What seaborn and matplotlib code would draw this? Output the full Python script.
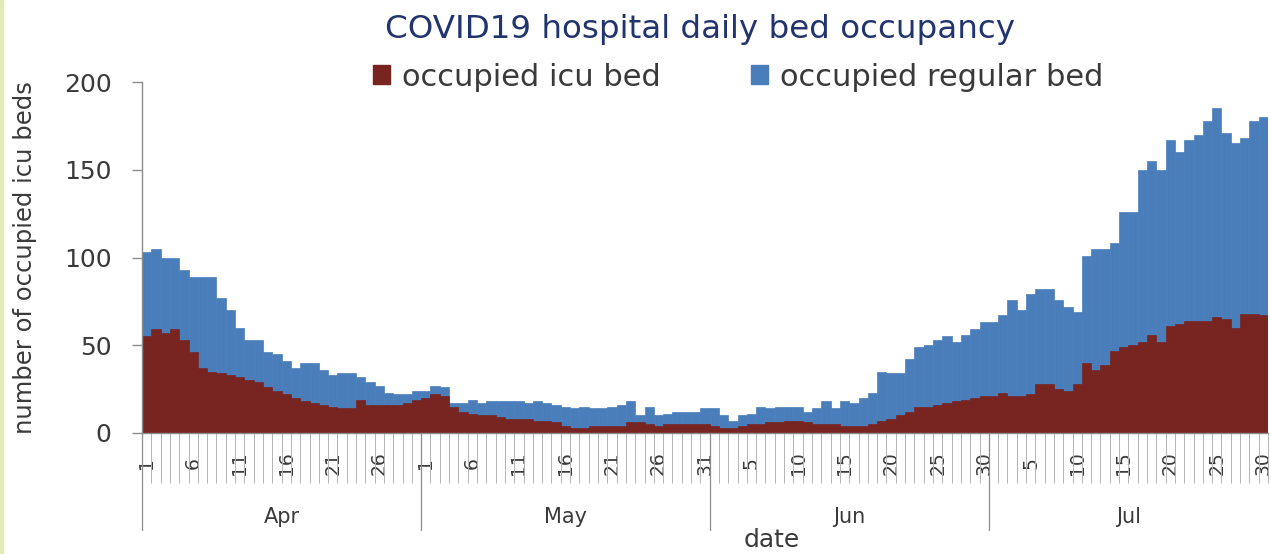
import numpy as np
import pandas as pd
import matplotlib.pyplot as plt
import seaborn as sns
from matplotlib.patches import Patch, Rectangle

# daily values, Apr 1 .. Jul 30
months = ["Apr", "May", "Jun", "Jul"]
month_days = [30, 31, 30, 30]

icu_apr = [55, 59, 57, 59, 53, 46, 37, 35, 34, 33, 32, 30, 29, 26, 24,
           22, 20, 18, 17, 16, 15, 14, 14, 19, 16, 16, 16, 16, 17, 19]
reg_apr = [48, 46, 43, 41, 40, 43, 52, 54, 43, 37, 28, 23, 24, 20, 21,
           19, 17, 22, 23, 20, 18, 20, 20, 13, 13, 11, 7, 6, 5, 5]
icu_may = [20, 22, 21, 15, 12, 11, 10, 10, 9, 8, 8, 8, 7, 7, 6, 4,
           3, 3, 4, 4, 4, 4, 6, 6, 5, 4, 5, 5, 5, 5, 5]
reg_may = [4, 5, 5, 2, 5, 8, 7, 8, 9, 10, 10, 9, 11, 10, 10, 11,
           11, 12, 10, 10, 11, 12, 12, 4, 10, 6, 6, 7, 7, 7, 9]
icu_jun = [4, 3, 3, 4, 5, 5, 6, 6, 7, 7, 6, 5, 5, 5, 4,
           4, 4, 5, 7, 8, 10, 12, 15, 15, 16, 17, 18, 19, 20, 21]
reg_jun = [10, 7, 4, 6, 6, 10, 8, 9, 8, 8, 6, 9, 13, 9, 14,
           13, 16, 18, 28, 26, 24, 30, 34, 35, 37, 38, 34, 37, 39, 42]
icu_jul = [21, 23, 21, 21, 22, 28, 28, 25, 24, 28, 40, 36, 39, 47, 49,
           50, 52, 56, 52, 61, 62, 64, 64, 64, 66, 65, 60, 68, 68, 67]
reg_jul = [42, 44, 55, 49, 57, 54, 54, 51, 48, 41, 61, 69, 66, 61, 77,
           76, 98, 99, 98, 106, 98, 103, 106, 114, 119, 106, 105, 100, 110, 113]

icu = icu_apr + icu_may + icu_jun + icu_jul
regular = reg_apr + reg_may + reg_jun + reg_jul
days = [d for n in month_days for d in range(1, n + 1)]

df = pd.DataFrame({"idx": range(len(days)), "day": days,
                   "icu": icu, "regular": regular})
df["total"] = df["icu"] + df["regular"]

red = "#782421"
blue = "#4a7ebb"
grey = "#8c8c8c"
txt = "#3a3a3a"

sns.set_style("white")
plt.rcParams["font.family"] = ["DejaVu Sans"]

fig = plt.figure(figsize=(12.71, 5.54), dpi=100)
ax = fig.add_axes([142 / 1271, 1 - 433 / 554, 1126 / 1271, 351 / 554])

sns.barplot(data=df, x="idx", y="total", color=blue, width=1, saturation=1,
            errorbar=None, edgecolor=blue, linewidth=0.5, ax=ax)
sns.barplot(data=df, x="idx", y="icu", color=red, width=1, saturation=1,
            errorbar=None, edgecolor=red, linewidth=0.5, ax=ax)

n = len(days)
ax.set_xlim(-0.5, n - 0.5)
ax.set_ylim(0, 200)
ax.set_yticks([0, 50, 100, 150, 200])
ax.tick_params(axis="y", left=True, labelsize=18, colors=grey, labelcolor=txt,
               length=7, width=1, direction="out", pad=15)

major = list(range(0, n, 5))
ax.set_xticks(major)
ax.set_xticklabels([str(days[i]) for i in major], rotation=90, fontsize=13.5,
                   color=txt, va="center")
ax.set_xticks(np.arange(-0.5, n, 1), minor=True)
ax.tick_params(axis="x", which="major", bottom=True, length=0, pad=22)
ax.tick_params(axis="x", which="minor", bottom=True, length=36, width=0.7,
               color="#b4b4b4", direction="out")

for s in ["top", "right"]:
    ax.spines[s].set_visible(False)
for s in ["left", "bottom"]:
    ax.spines[s].set_color(grey)
    ax.spines[s].set_linewidth(1)

# month grouping under the day labels
starts = np.cumsum([0] + month_days)
for k, m in enumerate(months):
    ax.plot([starts[k] - 0.5] * 2, [0, -0.276], transform=ax.get_xaxis_transform(),
            color=grey, lw=0.9, clip_on=False)
    mid = (starts[k] + starts[k + 1] - 1) / 2
    ax.text(mid, -0.239, m, transform=ax.get_xaxis_transform(), ha="center",
            va="center", fontsize=15, color=txt)

ax.set_xlabel("date", fontsize=18, color=txt)
ax.xaxis.set_label_coords(0.559, -0.272)
ax.set_ylabel("number of occupied icu beds", fontsize=17.5, color=txt)
ax.yaxis.set_label_coords(-0.093, 0.5)

fig.text(0.551, 0.946, "COVID19 hospital daily bed occupancy", ha="center",
         va="center", fontsize=23.4, color="#22346e")

handles = [Patch(facecolor=red, edgecolor=red), Patch(facecolor=blue, edgecolor=blue)]
fig.legend(handles, ["occupied icu bed", "occupied regular bed"], loc="center",
           bbox_to_anchor=(0.581, 0.861), ncol=2, frameon=False, fontsize=22,
           handlelength=0.55, handleheight=0.55, handletextpad=0.4,
           columnspacing=2.95, labelcolor=txt)

fig.add_artist(Rectangle((0, 0), 3 / 1271, 1, transform=fig.transFigure,
                         color="#e2eab8", zorder=0))

fig.savefig("out.png", dpi=100)
